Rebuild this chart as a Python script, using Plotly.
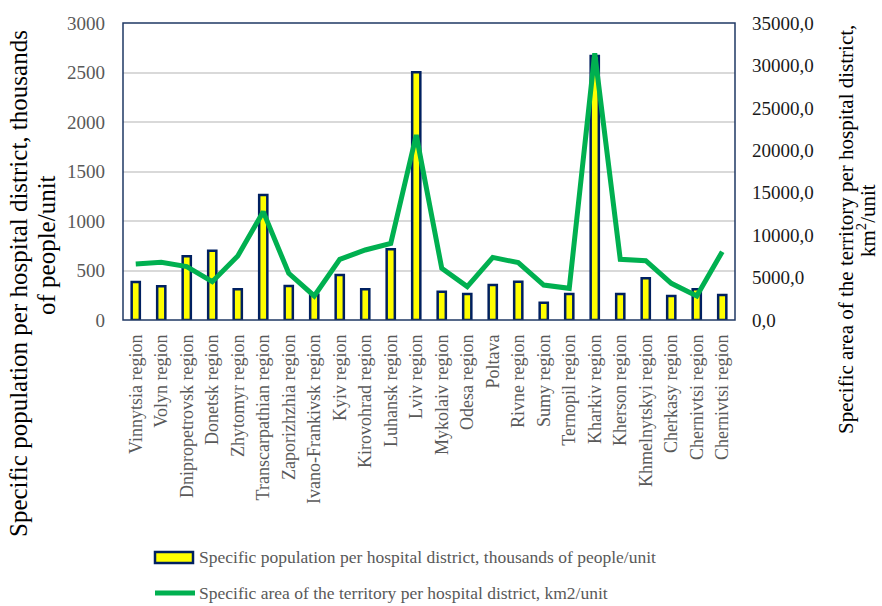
import plotly.graph_objects as go

regions = [
    "Vinnytsia region", "Volyn region", "Dnipropetrovsk region", "Donetsk region",
    "Zhytomyr region", "Transcarpathian region", "Zaporizhzhia region",
    "Ivano-Frankivsk region", "Kyiv region", "Kirovohrad region", "Luhansk region",
    "Lviv region", "Mykolaiv region", "Odesa region", "Poltava", "Rivne region",
    "Sumy region", "Ternopil region", "Kharkiv region", "Kherson region",
    "Khmelnytskyi region", "Cherkasy region", "Chernivtsi region", "Chernivtsi region",
]
population = [385, 340, 645, 700, 310, 1263, 343, 255, 454, 310, 714, 2502,
              286, 263, 354, 387, 175, 263, 2667, 263, 421, 242, 310, 252]
area = [6600, 6800, 6300, 4520, 7540, 12770, 5500, 2830, 7150, 8250, 9030, 21800,
        6090, 3930, 7380, 6760, 4120, 3730, 31420, 7150, 6990, 4320, 2830, 8050]

bar_name = "Specific population per hospital district, thousands of people/unit"
line_name = "Specific area of the territory per hospital district, km2/unit"
left_title_1 = "Specific population per hospital district, thousands"
left_title_2 = "of people/unit"
right_title_1 = "Specific area of the territory per hospital district,"
right_title_2 = "km<sup>2</sup>/unit"

W, H = 882, 606
L, R, T, B = 123, 735, 23, 320
FONT = "Liberation Serif, Times New Roman, serif"
GRAY = "#595959"
DARK = "#1a1a1a"


def px(x):
    return (x - L) / (R - L)


def py(y):
    return (B - y) / (B - T)


idx = list(range(len(regions)))

fig = go.Figure()
fig.add_trace(go.Bar(
    x=idx, y=population, name=bar_name, yaxis="y",
    width=0.32,
    marker=dict(color="#FFFF00", line=dict(color="#002060", width=2.5)),
    showlegend=False,
))
fig.add_trace(go.Scatter(
    x=idx, y=area, name=line_name, yaxis="y2", mode="lines",
    line=dict(color="#00B050", width=5),
    showlegend=False,
))

fig.update_layout(
    width=W, height=H,
    margin=dict(l=L, r=W - R, t=T, b=H - B, autoexpand=False),
    paper_bgcolor="white", plot_bgcolor="white",
    separators=", ",
    font=dict(family=FONT, color=GRAY, size=16),
    xaxis=dict(
        range=[-0.5, len(regions) - 0.5],
        tickmode="array", tickvals=idx, ticktext=regions,
        tickangle=-90, tickfont=dict(size=18, color=GRAY, family=FONT),
        showgrid=False, zeroline=False, ticks="", ticklabelstandoff=10,
        automargin=False,
    ),
    yaxis=dict(
        range=[0, 3000], dtick=500, tickformat="d",
        showgrid=True, gridcolor="#D9D9D9", gridwidth=1.5,
        zeroline=False, ticks="", ticklabelstandoff=17,
        tickfont=dict(size=19, color=GRAY, family=FONT),
        automargin=False,
    ),
    yaxis2=dict(
        range=[0, 35000], dtick=5000, tickformat=".1f",
        overlaying="y", side="right", showgrid=False, zeroline=False,
        ticks="", ticklabelstandoff=16,
        tickfont=dict(size=19, color=DARK, family=FONT),
        automargin=False,
    ),
)

# plot-area frame
fig.add_shape(type="rect", xref="paper", yref="paper", x0=0, x1=1, y0=0, y1=1,
              line=dict(color="#1F3864", width=1.5), layer="above")

# axis titles (one annotation per line for tight line spacing)
fig.add_annotation(text=left_title_1, xref="paper", yref="paper",
                   x=px(18), y=py(284), xanchor="center", yanchor="middle",
                   textangle=-90, showarrow=False,
                   font=dict(size=25, color="black", family=FONT))
fig.add_annotation(text=left_title_2, xref="paper", yref="paper",
                   x=px(47), y=py(245), xanchor="center", yanchor="middle",
                   textangle=-90, showarrow=False,
                   font=dict(size=25, color="black", family=FONT))
fig.add_annotation(text=right_title_1, xref="paper", yref="paper",
                   x=px(846), y=py(230), xanchor="center", yanchor="middle",
                   textangle=-90, showarrow=False,
                   font=dict(size=21, color="black", family=FONT))
fig.add_annotation(text=right_title_2, xref="paper", yref="paper",
                   x=px(866), y=py(220), xanchor="center", yanchor="middle",
                   textangle=-90, showarrow=False,
                   font=dict(size=21, color="black", family=FONT))

# legend (drawn manually to match wide symbols)
fig.add_shape(type="rect", xref="paper", yref="paper",
              x0=px(155), x1=px(193), y0=py(563), y1=py(552),
              fillcolor="#FFFF00", line=dict(color="#002060", width=2.5))
fig.add_shape(type="line", xref="paper", yref="paper",
              x0=px(155), x1=px(195), y0=py(593), y1=py(593),
              line=dict(color="#00B050", width=5))
fig.add_annotation(text=bar_name, xref="paper", yref="paper",
                   x=px(197), y=py(557), xanchor="left", yanchor="middle",
                   showarrow=False, font=dict(size=17.5, color=GRAY, family=FONT))
fig.add_annotation(text=line_name, xref="paper", yref="paper",
                   x=px(197), y=py(593), xanchor="left", yanchor="middle",
                   showarrow=False, font=dict(size=17.5, color=GRAY, family=FONT))

fig.write_html("out.html", config={"displayModeBar": False},
               post_script="document.body.style.margin='0';")
